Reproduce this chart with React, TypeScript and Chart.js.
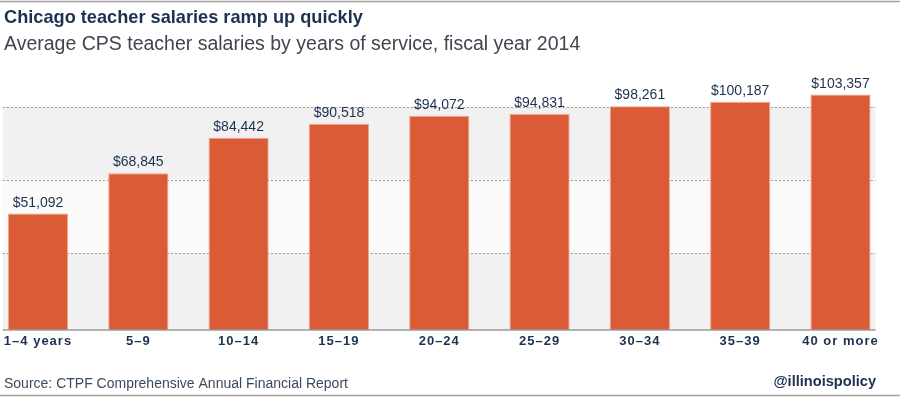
import React, { useEffect, useRef } from "react";
import { Chart, registerables } from "chart.js";

Chart.register(...registerables);

const categories = ["1–4 years", "5–9", "10–14", "15–19", "20–24", "25–29", "30–34", "35–39", "40 or more"];
const salaries = [51092, 68845, 84442, 90518, 94072, 94831, 98261, 100187, 103357];
const gridValues = [0, 34000, 66000, 98000];
const yMax = 119000;
const titleText = "Chicago teacher salaries ramp up quickly";
const subtitleText = "Average CPS teacher salaries by years of service, fiscal year 2014";
const sourceText = "Source: CTPF Comprehensive Annual Financial Report";
const handleText = "@illinoispolicy";

const NAVY = "#1c3150";
const FONT = "'Liberation Sans', Arial, sans-serif";

const decor = {
  id: "decor",
  beforeDraw(chart: any) {
    const { ctx, scales } = chart;
    const x = scales.x;
    const y = scales.y;
    const step = x.getPixelForValue(1) - x.getPixelForValue(0);
    const left = x.getPixelForValue(0) - step * 0.35;
    const right = x.getPixelForValue(categories.length - 1) + step * 0.35;
    const ys = gridValues.map((v) => y.getPixelForValue(v));
    ctx.save();
    for (let i = 0; i < ys.length - 1; i++) {
      ctx.fillStyle = i % 2 === 0 ? "#f1f1f1" : "#fbfaf9";
      ctx.fillRect(left, ys[i + 1], right - left, ys[i] - ys[i + 1]);
    }
    ctx.strokeStyle = "#9a9a9a";
    ctx.lineWidth = 1;
    ctx.setLineDash([2, 2]);
    for (let i = 1; i < ys.length; i++) {
      const yy = Math.round(ys[i]) + 0.5;
      ctx.beginPath();
      ctx.moveTo(left, yy);
      ctx.lineTo(right, yy);
      ctx.stroke();
    }
    ctx.setLineDash([]);
    ctx.strokeStyle = "#a0a0a0";
    ctx.lineWidth = 1.5;
    ctx.beginPath();
    ctx.moveTo(0, 1.5);
    ctx.lineTo(chart.width, 1.5);
    ctx.stroke();
    ctx.beginPath();
    ctx.moveTo(0, 395.5);
    ctx.lineTo(chart.width, 395.5);
    ctx.stroke();
    ctx.restore();
    (ctx as any).letterSpacing = "1px";
  },
  beforeDatasetsDraw(chart: any) {
    (chart.ctx as any).letterSpacing = "0px";
  },
  afterDatasetsDraw(chart: any) {
    const { ctx, scales } = chart;
    const x = scales.x;
    const y = scales.y;
    const step = x.getPixelForValue(1) - x.getPixelForValue(0);
    const left = x.getPixelForValue(0) - step * 0.35;
    const right = x.getPixelForValue(categories.length - 1) + step * 0.35;
    const y0 = y.getPixelForValue(0);
    ctx.save();
    ctx.strokeStyle = "#9a9a9a";
    ctx.lineWidth = 1.5;
    ctx.beginPath();
    ctx.moveTo(left, y0);
    ctx.lineTo(right, y0);
    ctx.stroke();
    const meta = chart.getDatasetMeta(0);
    ctx.fillStyle = NAVY;
    ctx.font = `14px ${FONT}`;
    ctx.textAlign = "center";
    ctx.textBaseline = "alphabetic";
    meta.data.forEach((bar: any, i: number) => {
      ctx.fillText("$" + salaries[i].toLocaleString("en-US"), bar.x, bar.y - 7);
    });
    ctx.restore();
  },
  afterDraw(chart: any) {
    const { ctx } = chart;
    ctx.save();
    (ctx as any).letterSpacing = "0px";
    ctx.textBaseline = "alphabetic";
    ctx.textAlign = "left";
    ctx.fillStyle = NAVY;
    ctx.font = `bold 18.2px ${FONT}`;
    ctx.fillText(titleText, 4, 23);
    ctx.fillStyle = "#3f4650";
    ctx.font = `19.5px ${FONT}`;
    ctx.fillText(subtitleText, 4, 50);
    ctx.fillStyle = "#3a4b5e";
    ctx.font = `14px ${FONT}`;
    ctx.fillText(sourceText, 4, 388);
    ctx.fillStyle = NAVY;
    ctx.font = `bold 14.6px ${FONT}`;
    ctx.textAlign = "right";
    ctx.fillText(handleText, 876, 386);
    ctx.restore();
  },
};

export default function App() {
  const ref = useRef<HTMLCanvasElement | null>(null);
  useEffect(() => {
    if (!ref.current) return;
    const chart = new Chart(ref.current, {
      type: "bar",
      data: {
        labels: categories,
        datasets: [
          {
            data: salaries,
            backgroundColor: "#db5b36",
            borderColor: "#eea58c",
            borderWidth: 1,
            barPercentage: 0.6,
            categoryPercentage: 1,
            clip: false as any,
          },
        ],
      },
      options: {
        animation: false,
        responsive: false,
        layout: { padding: { left: 38, right: 59.5, top: 59, bottom: 45.5 } },
        plugins: { legend: { display: false }, tooltip: { enabled: false }, title: { display: false } },
        scales: {
          x: {
            offset: false,
            grid: { display: false, drawTicks: false },
            border: { display: false },
            ticks: {
              color: NAVY,
              font: { family: FONT, size: 13, weight: "bold" },
              padding: 4,
              maxRotation: 0,
              autoSkip: false,
            },
          },
          y: {
            display: false,
            min: 0,
            max: yMax,
          },
        },
      },
      plugins: [decor],
    });
    return () => chart.destroy();
  }, []);
  return (
    <div style={{ position: "absolute", left: 0, top: 0, width: 900, height: 399, background: "#fff" }}>
      <canvas ref={ref} width={900} height={399} />
    </div>
  );
}
